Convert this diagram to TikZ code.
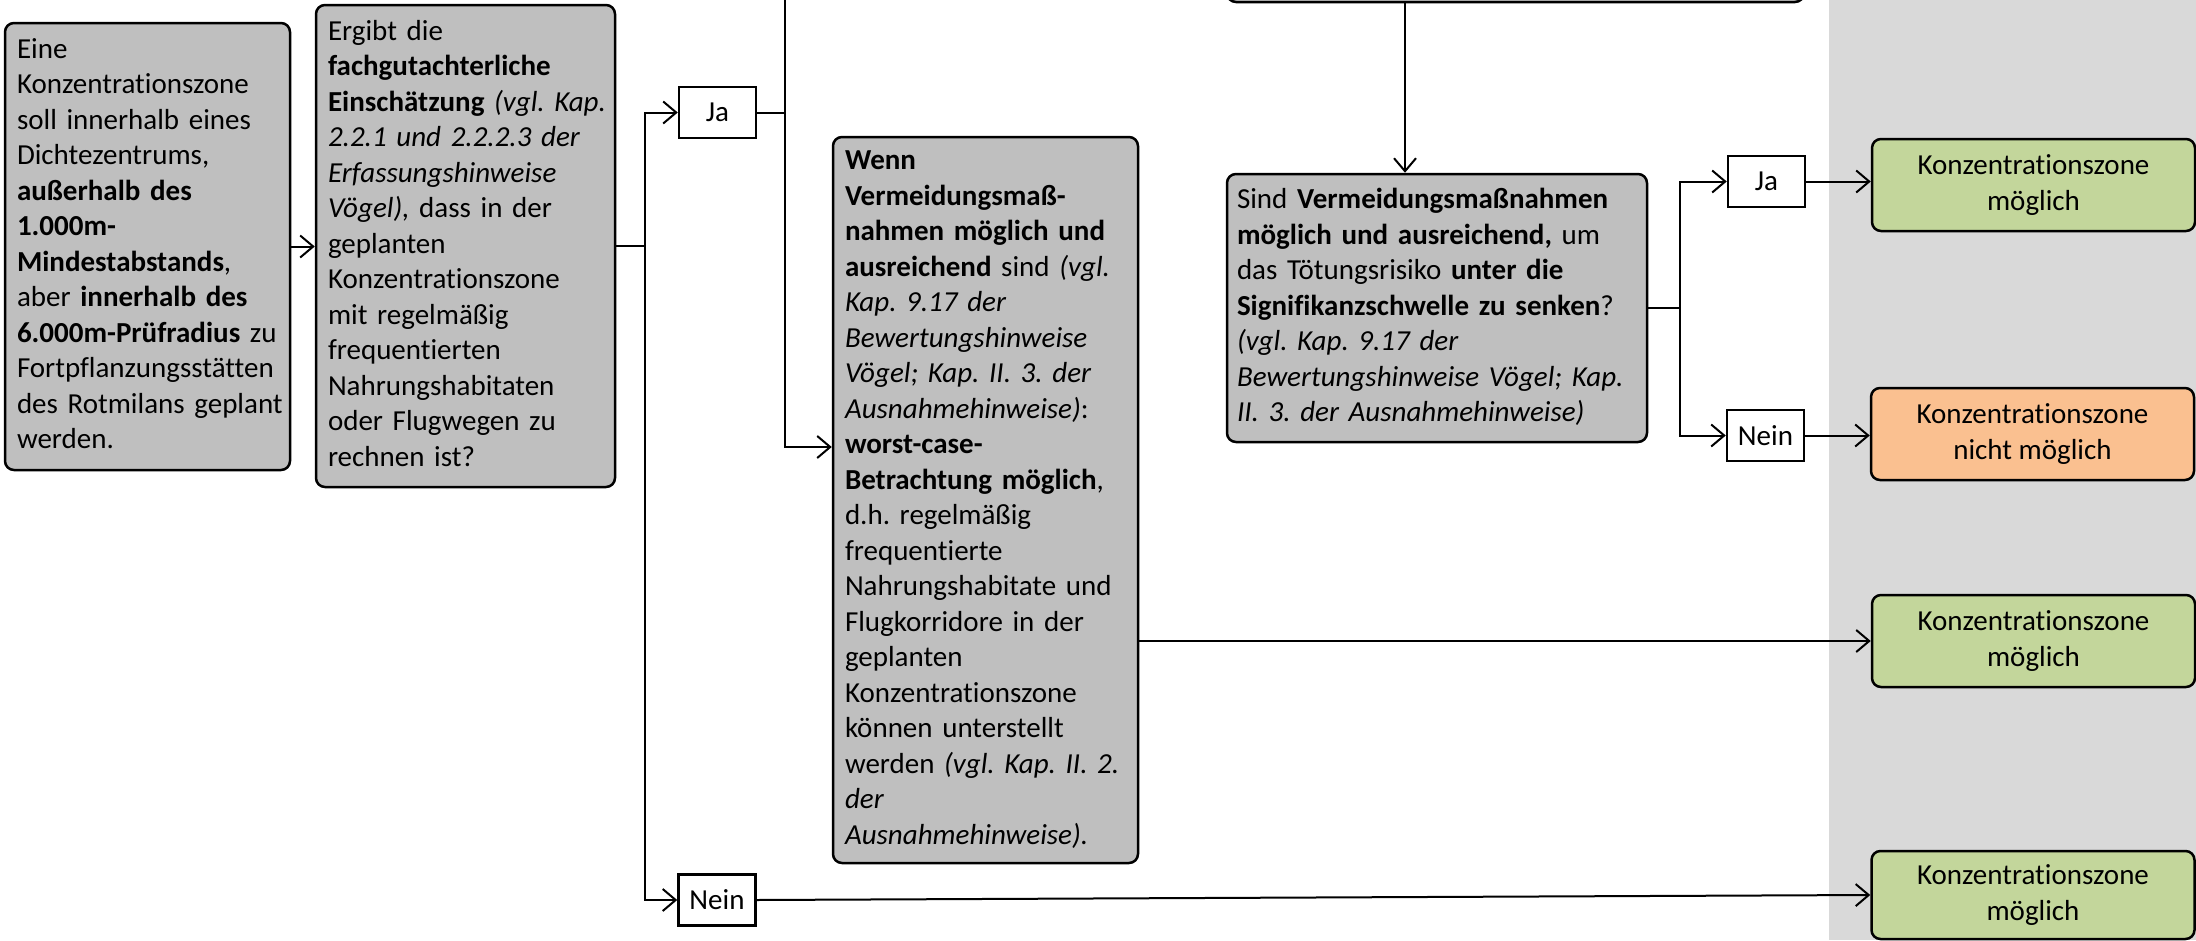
\documentclass[tikz,border=0pt]{standalone}
\usepackage{fontspec}
\setmainfont{Carlito}[Ligatures={NoCommon}]
\usetikzlibrary{arrows.meta}
\definecolor{boxgray}{HTML}{BFBFBF}
\definecolor{bggray}{HTML}{D9D9D9}
\definecolor{okgreen}{HTML}{C3D69B}
\definecolor{noorange}{HTML}{FAC090}
\newcommand{\boxlines}[1]{\begin{tabular}{@{}l@{}}#1\end{tabular}}
\frenchspacing
\tikzset{
  every node/.style={font=\fontsize{29}{35.5}\selectfont},
  gbox/.style={draw, line width=2.5pt, rounded corners=9pt, fill=boxgray,
    inner xsep=12pt, inner ysep=0pt, align=left},
  ansbox/.style={draw, line width=2.5pt, fill=white, minimum width=77pt,
    minimum height=51pt, inner sep=0pt},
  resbox/.style={draw, line width=2.5pt, rounded corners=9pt, align=center,
    minimum width=323pt, minimum height=92pt, inner sep=0pt},
  conn/.style={line width=2pt},
  arr/.style={line width=2pt, -{Straight Barb[length=13pt,width=22pt]}},
}
\begin{document}
\begin{tikzpicture}[x=1pt, y=-1pt]
\useasboundingbox (0,0) rectangle (2196,940);
\clip (0,0) rectangle (2196,940);
\fill[bggray] (1829,0) rectangle (2196,940);

% main boxes
\node[gbox, minimum width=285pt, minimum height=447pt, text width=261pt] (b1) at (147.5,246.5)
 {\boxlines{Eine\\Konzentrationszone\\soll innerhalb eines\\Dichtezentrums,\\
 \textbf{außerhalb des}\\\textbf{1.000m-}\\\textbf{Mindestabstands},\\
 aber \textbf{innerhalb des}\\\textbf{6.000m-Prüfradius} zu\\Fortpflanzungsstätten\\
 des Rotmilans geplant\\werden.}};

\node[gbox, minimum width=299pt, minimum height=482pt, text width=275pt] (b2) at (465.5,246)
 {\boxlines{Ergibt die\\\textbf{fachgutachterliche}\\\textbf{Einschätzung} \textit{(vgl. Kap.}\\
 \textit{2.2.1 und 2.2.2.3 der}\\\textit{Erfassungshinweise}\\\textit{Vögel),} dass in der\\
 geplanten\\Konzentrationszone\\mit regelmäßig\\frequentierten\\Nahrungshabitaten\\
 oder Flugwegen zu\\rechnen ist?}};

\node[gbox, minimum width=305pt, minimum height=726pt, text width=281pt] (b3) at (985.5,500)
 {\boxlines{\textbf{Wenn}\\\textbf{Vermeidungsmaß-}\\\textbf{nahmen möglich und}\\
 \textbf{ausreichend} sind \textit{(vgl.}\\\textit{Kap. 9.17 der}\\\textit{Bewertungshinweise}\\
 \textit{Vögel; Kap. II. 3. der}\\\textit{Ausnahmehinweise)}:\\\textbf{worst-case-}\\
 \textbf{Betrachtung möglich},\\d.h. regelmäßig\\frequentierte\\Nahrungshabitate und\\
 Flugkorridore in der\\geplanten\\Konzentrationszone\\können unterstellt\\
 werden \textit{(vgl. Kap. II. 2.}\\\textit{der}\\\textit{Ausnahmehinweise).}}};

\node[gbox, minimum width=577pt, minimum height=102pt] (top) at (1515.5,-49) {};

\node[gbox, inner xsep=10pt, minimum width=420pt, minimum height=268pt, text width=400pt] (b4) at (1437,308)
 {\boxlines{Sind \textbf{Vermeidungsmaßnahmen}\\\textbf{möglich und ausreichend,} um\\
 das Tötungsrisiko \textbf{unter die}\\\textbf{Signifikanzschwelle zu senken}?\\
 \textit{(vgl. Kap. 9.17 der}\\\textit{Bewertungshinweise Vögel; Kap.}\\
 \textit{II. 3. der Ausnahmehinweise)}}};

% answer boxes
\node[ansbox] (ja1) at (717.5,112.5) {Ja};
\node[ansbox] (nein1) at (717,900) {Nein};
\node[ansbox] (ja2) at (1766.5,181.5) {Ja};
\node[ansbox] (nein2) at (1765.5,435.5) {Nein};

% result boxes
\node[resbox, fill=okgreen] (g1) at (2033.5,185) {Konzentrationszone\\möglich};
\node[resbox, fill=noorange] (o1) at (2032.5,434) {Konzentrationszone\\nicht möglich};
\node[resbox, fill=okgreen] (g2) at (2033.5,641) {Konzentrationszone\\möglich};
\node[resbox, fill=okgreen, minimum height=88pt] (g3) at (2033,895) {Konzentrationszone\\möglich};

% connectors
\coordinate (s1) at (645,246);
\coordinate (s2) at (785,-30);
\coordinate (s2b) at (785,447);
\coordinate (ax) at (1405,0);
\coordinate (s3) at (1680,308);

\draw[arr] (b1.east) -- (b1.east -| b2.west);
\draw[conn] (b2.east) -- (s1);
\draw[arr] (s1) |- (ja1.west);
\draw[arr] (s1) |- (nein1.west);
\draw[conn] (ja1.east) -- (ja1.east -| s2);
\draw[arr] (s2) |- (b3.west |- s2b);
\draw[arr] (g2.west -| b3.east) -- (g2.west);
\draw[arr] (nein1.east) -- (g3.west);
\draw[arr] (top.south -| ax) -- (b4.north -| ax);
\draw[conn] (b4.east) -- (s3);
\draw[arr] (s3) |- (ja2.west);
\draw[arr] (s3) |- (nein2.west);
\draw[arr] (ja2.east) -- (ja2.east -| g1.west);
\draw[arr] (nein2.east) -- (nein2.east -| o1.west);
\end{tikzpicture}
\end{document}
